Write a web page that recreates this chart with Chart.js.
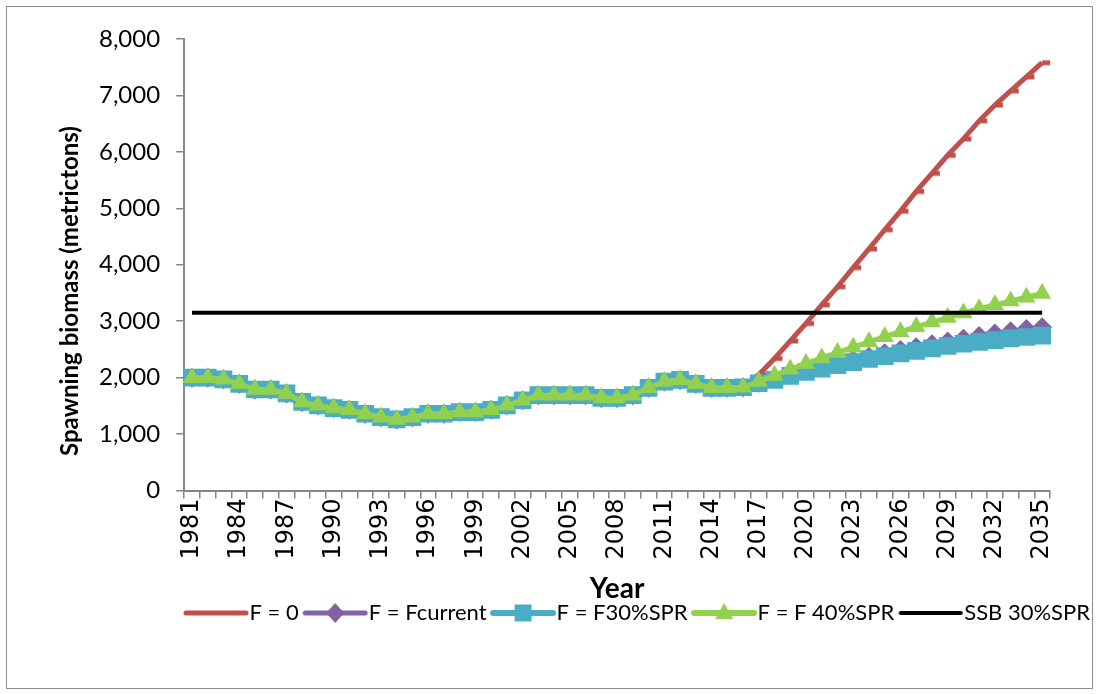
<!DOCTYPE html>
<html lang="en">
<head>
<meta charset="UTF-8">
<title>Spawning biomass projections</title>
<script src="https://cdn.jsdelivr.net/npm/chart.js"></script>
<style>
  body { margin: 0; background: #fff; }
  #wrap { position: relative; width: 1097px; height: 694px; }
  #frame { position: absolute; left: 6px; top: 6px; width: 1087px; height: 683px; box-sizing: border-box; border: 1px solid #8c8c8c; pointer-events: none; }
</style>
</head>
<body>
<div id="wrap">
  <canvas id="ssbChart" width="1097" height="694"></canvas>
  <div id="frame"></div>
</div>
<script>
// years 1981 - 2035
const years = [
  '1981','1982','1983','1984','1985','1986','1987','1988','1989','1990',
  '1991','1992','1993','1994','1995','1996','1997','1998','1999','2000',
  '2001','2002','2003','2004','2005','2006','2007','2008','2009','2010',
  '2011','2012','2013','2014','2015','2016','2017','2018','2019','2020',
  '2021','2022','2023','2024','2025','2026','2027','2028','2029','2030',
  '2031','2032','2033','2034','2035'
];

const fZero = [
  2000, 2000, 1970, 1890, 1790, 1790, 1720, 1570, 1510, 1460,
  1430, 1360, 1300, 1260, 1300, 1360, 1360, 1390, 1390, 1430,
  1510, 1600, 1690, 1690, 1690, 1690, 1640, 1640, 1690, 1820,
  1930, 1960, 1890, 1820, 1820, 1830, 2050, 2340, 2650, 2960,
  3290, 3610, 3950, 4280, 4620, 4950, 5300, 5620, 5940, 6230,
  6550, 6830, 7080, 7330, 7580
];

const fCurrent = [
  2000, 2000, 1970, 1890, 1790, 1790, 1720, 1570, 1510, 1460,
  1430, 1360, 1300, 1260, 1300, 1360, 1360, 1390, 1390, 1430,
  1510, 1600, 1690, 1690, 1690, 1690, 1640, 1640, 1690, 1820,
  1930, 1960, 1890, 1820, 1820, 1830, 1910, 1980, 2050, 2120,
  2190, 2250, 2310, 2370, 2430, 2490, 2540, 2590, 2640, 2690,
  2740, 2780, 2820, 2860, 2895
];

const f30 = [
  2000, 2000, 1970, 1890, 1790, 1790, 1720, 1570, 1510, 1460,
  1430, 1360, 1300, 1260, 1300, 1360, 1360, 1390, 1390, 1430,
  1510, 1600, 1690, 1690, 1690, 1690, 1640, 1640, 1690, 1820,
  1930, 1960, 1890, 1820, 1820, 1830, 1900, 1960, 2030, 2100,
  2160, 2220, 2275, 2330, 2380, 2430, 2475, 2520, 2560, 2600,
  2635, 2665, 2695, 2720, 2745
];

const f40 = [
  2000, 2000, 1970, 1890, 1790, 1790, 1720, 1570, 1510, 1460,
  1430, 1360, 1300, 1260, 1300, 1360, 1360, 1390, 1390, 1430,
  1510, 1600, 1690, 1690, 1690, 1690, 1640, 1640, 1690, 1820,
  1930, 1960, 1890, 1820, 1820, 1830, 1930, 2040, 2150, 2250,
  2350, 2445, 2540, 2635, 2725, 2815, 2900, 2985, 3065, 3145,
  3220, 3290, 3360, 3425, 3490
];

const ssb30 = [
  3150, 3150, 3150, 3150, 3150, 3150, 3150, 3150, 3150, 3150,
  3150, 3150, 3150, 3150, 3150, 3150, 3150, 3150, 3150, 3150,
  3150, 3150, 3150, 3150, 3150, 3150, 3150, 3150, 3150, 3150,
  3150, 3150, 3150, 3150, 3150, 3150, 3150, 3150, 3150, 3150,
  3150, 3150, 3150, 3150, 3150, 3150, 3150, 3150, 3150, 3150,
  3150, 3150, 3150, 3150, 3150
];

const RED = '#C0504D', PURPLE = '#8064A2', BLUE = '#4BACC6', GREEN = '#92D050', AXIS = '#868686';

// small dash to the right of the point, like the excel marker
function dashMarker(color) {
  const c = document.createElement('canvas');
  c.width = 20; c.height = 8;
  const g = c.getContext('2d');
  g.fillStyle = color;
  g.fillRect(10, 1.5, 8, 5);
  return c;
}

// legend sample: line with the marker in the middle
function legendSample(color, marker, lw) {
  const c = document.createElement('canvas');
  c.width = 80; c.height = 26;
  const g = c.getContext('2d');
  g.strokeStyle = color; g.fillStyle = color;
  g.lineWidth = lw; g.lineCap = 'round';
  g.beginPath(); g.moveTo(16, 13); g.lineTo(76, 13); g.stroke();
  const cx = 46, cy = 13;
  g.beginPath();
  if (marker === 'diamond') {
    g.moveTo(cx, cy - 10); g.lineTo(cx + 9, cy); g.lineTo(cx, cy + 10); g.lineTo(cx - 9, cy);
  } else if (marker === 'square') {
    g.rect(cx - 8.5, cy - 8.5, 17, 17);
  } else if (marker === 'triangle') {
    g.moveTo(cx, cy - 10); g.lineTo(cx + 9, cy + 6); g.lineTo(cx - 9, cy + 6);
  }
  g.closePath(); g.fill();
  return c;
}

const legendItems = [
  { text: 'F = 0', img: legendSample(RED, null, 5) },
  { text: 'F = Fcurrent', img: legendSample(PURPLE, 'diamond', 5) },
  { text: 'F = F30%SPR', img: legendSample(BLUE, 'square', 6) },
  { text: 'F = F 40%SPR', img: legendSample(GREEN, 'triangle', 6) },
  { text: 'SSB 30%SPR', img: legendSample('#000', null, 4) }
];

const ctx = document.getElementById('ssbChart').getContext('2d');

new Chart(ctx, {
  type: 'line',
  data: {
    labels: years,
    datasets: [{
      label: 'F = 0',
      data: fZero,
      borderColor: RED,
      backgroundColor: RED,
      borderWidth: 5,
      pointStyle: dashMarker(RED),
      pointRadius: 5,
      order: 5
    }, {
      label: 'F = Fcurrent',
      data: fCurrent,
      borderColor: PURPLE,
      backgroundColor: PURPLE,
      borderWidth: 5,
      pointStyle: 'rectRot',
      pointRadius: 10,
      pointBorderWidth: 0,
      order: 4
    }, {
      label: 'F = F30%SPR',
      data: f30,
      borderColor: BLUE,
      backgroundColor: BLUE,
      borderWidth: 5,
      pointStyle: 'rect',
      pointRadius: 12.5,
      pointBorderWidth: 0,
      order: 3
    }, {
      label: 'F = F 40%SPR',
      data: f40,
      borderColor: GREEN,
      backgroundColor: GREEN,
      borderWidth: 5,
      pointStyle: 'triangle',
      pointRadius: 10.5,
      pointBorderWidth: 0,
      order: 2
    }, {
      label: 'SSB 30%SPR',
      data: ssb30,
      borderColor: '#000',
      backgroundColor: '#000',
      borderWidth: 4,
      pointRadius: 0,
      order: 1
    }]
  },
  options: {
    responsive: false,
    animation: false,
    layout: { padding: { left: 54, top: 39, right: 5, bottom: 60 } },
    elements: { line: { tension: 0 } },
    plugins: {
      tooltip: { enabled: false },
      legend: {
        position: 'bottom',
        align: 'end',
        labels: {
          usePointStyle: true,
          pointStyleWidth: 57,
          padding: 2,
          color: '#000',
          font: { family: 'Lato', size: 22 },
          generateLabels: () => legendItems.map(it => ({
            text: it.text,
            pointStyle: it.img,
            fillStyle: 'transparent',
            strokeStyle: 'transparent',
            lineWidth: 0,
            hidden: false
          }))
        }
      }
    },
    scales: {
      x: {
        offset: true,
        grid: { display: true, offset: true, drawOnChartArea: false, drawTicks: true, tickLength: 8, color: AXIS, lineWidth: 1.5 },
        border: { display: true, color: AXIS, width: 2 },
        ticks: {
          autoSkip: false,
          maxRotation: 90,
          minRotation: 90,
          padding: 0,
          color: '#000',
          font: { family: 'DejaVu Sans', size: 24 },
          callback: function (value, index) {
            return index % 3 === 0 ? this.getLabelForValue(value) : '';
          }
        },
        title: {
          display: true,
          text: 'Year',
          color: '#000',
          font: { family: 'Lato', size: 28, weight: 'bold', lineHeight: 0.8 },
          padding: { top: 18, bottom: 0 }
        }
      },
      y: {
        min: 0,
        max: 8000,
        grid: { display: true, drawOnChartArea: false, drawTicks: true, tickLength: 8, color: AXIS, lineWidth: 1.5 },
        border: { display: true, color: AXIS, width: 2 },
        ticks: {
          stepSize: 1000,
          padding: 16,
          color: '#000',
          font: { family: 'Lato', size: 24 }
        },
        title: {
          display: true,
          text: 'Spawning biomass (metrictons)         ',
          color: '#000',
          font: { family: 'Lato', size: 24, weight: 'bold', lineHeight: 1 },
          padding: { top: 4, bottom: 1 }
        }
      },
      yRight: {
        position: 'right',
        display: true,
        grid: { display: false },
        border: { display: false },
        ticks: { display: false },
        afterFit: function (scale) { scale.width = 42; }
      }
    }
  }
});
</script>
</body>
</html>
